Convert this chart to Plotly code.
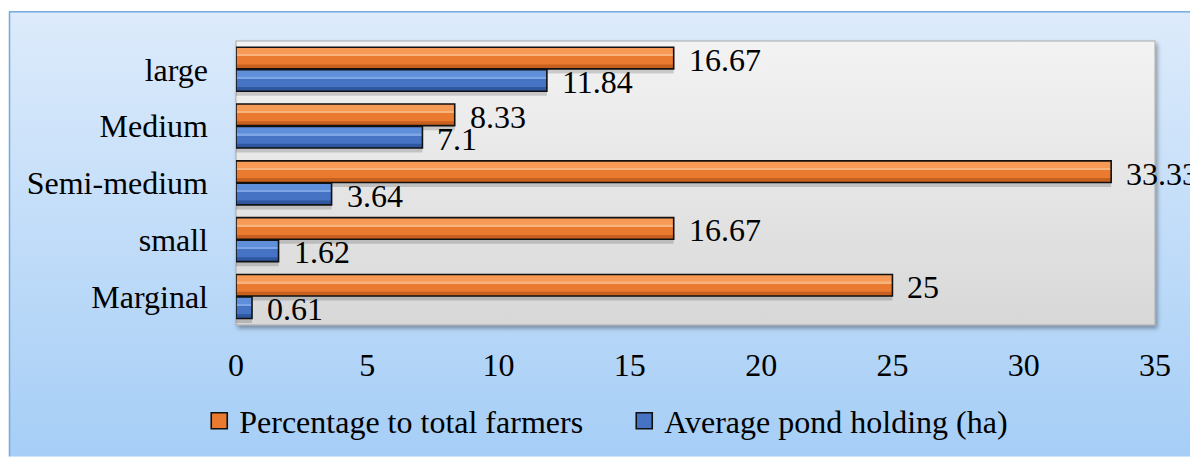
import base64
import plotly.graph_objects as go

# ---------------- data ----------------
categories = ["Marginal", "small", "Semi-medium", "Medium", "large"]
pct_farmers = [25, 16.67, 33.33, 8.33, 16.67]
avg_pond = [0.61, 1.62, 3.64, 7.1, 11.84]
pct_labels = ["25", "16.67", "33.33", "8.33", "16.67"]
pond_labels = ["0.61", "1.62", "3.64", "7.1", "11.84"]
series_names = ["Percentage to total farmers", "Average pond holding (ha)"]
x_ticks = [0, 5, 10, 15, 20, 25, 30, 35]

# ---------------- styling ----------------
W, H = 1190, 461
L, R, T, B = 236, 1155, 41, 328
FONT = "Liberation Serif"
FS = 32

ORANGE = dict(base="#EA7A2F", light="#F69A55", dark="#C7601E", hi="#F8B47E")
BLUE = dict(base="#4673C4", light="#5F8EDB", dark="#2F57A0", hi="#7EA5E6")

BW = 0.38
OFF_O = 0.01
OFF_B = -0.385
SH = 0.08  # shadow drop (category units)

fig = go.Figure()


def add_bar(vals, off, pal):
    # shadow
    fig.add_trace(go.Bar(y=categories, x=vals, orientation="h", offset=off - SH, width=BW,
                         marker=dict(color="rgba(0,0,0,0.16)", line=dict(width=0)),
                         showlegend=False, hoverinfo="skip"))
    # base fill
    fig.add_trace(go.Bar(y=categories, x=vals, orientation="h", offset=off, width=BW,
                         marker=dict(color=pal["base"], line=dict(width=0)),
                         showlegend=False, hoverinfo="skip"))
    # bottom darker bevel
    fig.add_trace(go.Bar(y=categories, x=vals, orientation="h", offset=off, width=BW * 0.2,
                         marker=dict(color=pal["dark"], line=dict(width=0)),
                         showlegend=False, hoverinfo="skip"))
    # top lighter bevel
    fig.add_trace(go.Bar(y=categories, x=vals, orientation="h", offset=off + BW * 0.62, width=BW * 0.38,
                         marker=dict(color=pal["light"], line=dict(width=0)),
                         showlegend=False, hoverinfo="skip"))
    # highlight line
    fig.add_trace(go.Bar(y=categories, x=vals, orientation="h", offset=off + BW * 0.6, width=BW * 0.07,
                         marker=dict(color=pal["hi"], line=dict(width=0)),
                         showlegend=False, hoverinfo="skip"))
    # outline
    fig.add_trace(go.Bar(y=categories, x=vals, orientation="h", offset=off, width=BW,
                         marker=dict(color="rgba(0,0,0,0)", line=dict(width=1.6, color="#111111")),
                         showlegend=False, hoverinfo="skip"))


add_bar(pct_farmers, OFF_O, ORANGE)
add_bar(avg_pond, OFF_B, BLUE)

# legend entries
for name, pal in zip(series_names, [ORANGE, BLUE]):
    fig.add_trace(go.Scatter(x=[None], y=[None], mode="markers", name=name,
                             marker=dict(symbol="square", size=16, color=pal["base"],
                                         line=dict(width=1.6, color="#111111"))))

# data labels
ann = []
for cat, v, t in zip(categories, pct_farmers, pct_labels):
    ann.append(dict(x=v, y=cat, text=t, showarrow=False, xanchor="left", yanchor="middle",
                    xshift=13, yshift=9.5, font=dict(family=FONT, size=FS, color="black")))
for cat, v, t in zip(categories, avg_pond, pond_labels):
    ann.append(dict(x=v, y=cat, text=t, showarrow=False, xanchor="left", yanchor="middle",
                    xshift=13, yshift=-12.5, font=dict(family=FONT, size=FS, color="black")))

# background (outer chart area + plot area) as an SVG image
svg = f'''<svg xmlns="http://www.w3.org/2000/svg" width="{W}" height="{H}" viewBox="0 0 {W} {H}">
<defs>
<linearGradient id="og" x1="0" y1="0" x2="0" y2="1">
<stop offset="0" stop-color="#DDEBFB"/><stop offset="1" stop-color="#A2CCF6"/></linearGradient>
<linearGradient id="pg" x1="0" y1="0" x2="0" y2="1">
<stop offset="0" stop-color="#F3F3F3"/><stop offset="1" stop-color="#D8D8D8"/></linearGradient>
<filter id="sh" x="-5%" y="-5%" width="110%" height="120%">
<feDropShadow dx="2" dy="3" stdDeviation="2" flood-color="#000" flood-opacity="0.35"/></filter>
</defs>
<rect x="9.5" y="11.5" width="1220" height="480" fill="url(#og)" stroke="#72A9DF" stroke-width="1.5"/>
<rect x="{L}" y="{T}" width="{R-L}" height="{B-T}" fill="url(#pg)" stroke="#A8A8A8" stroke-width="1" filter="url(#sh)"/>
</svg>'''
src = "data:image/svg+xml;base64," + base64.b64encode(svg.encode()).decode()

pw, ph = R - L, B - T
fig.update_layout(
    width=W, height=H,
    margin=dict(l=L, r=W - R, t=T, b=H - B),
    paper_bgcolor="white", plot_bgcolor="rgba(0,0,0,0)",
    barmode="overlay",
    font=dict(family=FONT, size=FS, color="black"),
    images=[dict(source=src, xref="paper", yref="paper", x=-L / pw, y=1 + T / ph,
                 sizex=W / pw, sizey=H / ph, sizing="stretch", xanchor="left", yanchor="top",
                 layer="below")],
    xaxis=dict(range=[0, 35], tickvals=x_ticks, showgrid=False, zeroline=False, showline=False,
               ticks="", ticklabelstandoff=18, tickfont=dict(family=FONT, size=FS)),
    yaxis=dict(type="category", categoryarray=categories, categoryorder="array", range=[-0.5, 4.5],
               showgrid=False, zeroline=False, showline=False, ticks="", ticklabelstandoff=27,
               tickfont=dict(family=FONT, size=FS)),
    legend=dict(orientation="h", x=-0.04, xanchor="left", y=-0.338, yanchor="middle",
                font=dict(family=FONT, size=FS), bgcolor="rgba(0,0,0,0)", entrywidth=380,
                entrywidthmode="pixels", itemclick=False),
    annotations=ann,
    hovermode=False,
)

fig.write_html("out.html")
